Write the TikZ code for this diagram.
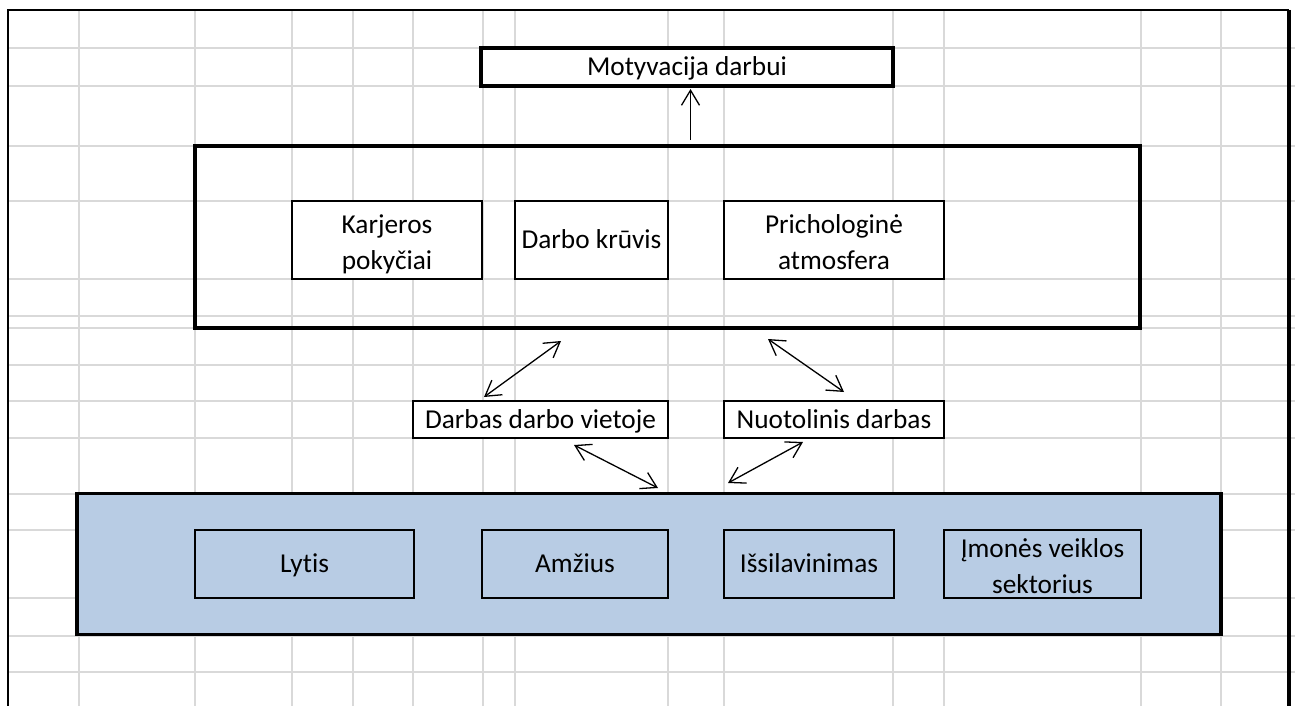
\documentclass[tikz,border=0pt]{standalone}
\usepackage{fontspec}
\setmainfont[Ligatures=NoCommon]{Carlito}
\usetikzlibrary{arrows.meta}
\definecolor{gridgray}{RGB}{217,217,217}
\definecolor{boxblue}{RGB}{184,204,228}
\tikzset{sbarb/.tip={Straight Barb[length=15pt,width=18pt,line width=1.3pt]}}
\begin{document}
\begin{tikzpicture}[x=1pt,y=-1pt,
  txt/.style={font=\fontsize{27.3}{36}\selectfont, inner sep=0pt, align=center},
  one/.style={text height=23pt, text depth=6pt},
  two/.style={text height=59pt, text depth=1pt},
  thinbox/.style={txt, draw=black, line width=1.8pt, fill=white},
  thickbox/.style={draw=black, line width=3.2pt, inner sep=0pt},
  bluebox/.style={txt, draw=black, line width=1.8pt, fill=boxblue},
  conn/.style={line width=1.3pt, sbarb-sbarb},
  upconn/.style={line width=1.3pt, -sbarb}
]
\useasboundingbox (0,0) rectangle (1295,706);
\fill[white] (0,0) rectangle (1295,706);
% grid
\foreach \gx in {79,195,292,353,413,483,515,668,724,893,944,1141,1221}
  \draw[gridgray, line width=1.3pt] (\gx,10) -- (\gx,706);
\foreach \gy in {48,86,146,201,279,316,328,365,401,438,494,530,598,636,672}
  \draw[gridgray, line width=1.3pt] (8,\gy) -- (1295,\gy);
% sheet frame
\draw[black, line width=2.2pt] (8,706) -- (8,10) -- (1289,10);
\draw[black, line width=3.2pt] (1289,10) -- (1289,706);

% top box
\node[thickbox, txt, one, fill=white, minimum width=412pt, minimum height=38pt] (mot) at (687,67) {Motyvacija darbui};

% big white frame box
\node[thickbox, minimum width=945pt, minimum height=182pt] (fact) at (667.5,237) {};
\node[thinbox, two, minimum width=190pt, minimum height=78pt] (kar) at (387,240) {Karjeros\\pokyčiai};
\node[thinbox, one, minimum width=153pt, minimum height=78pt] (kru) at (591.5,240) {Darbo krūvis};
\node[thinbox, two, minimum width=220pt, minimum height=78pt] (pri) at (834,240) {Prichologinė\\atmosfera};

% middle boxes
\node[thinbox, one, line width=1.5pt, minimum width=255pt, minimum height=37pt] (dv) at (540.5,419.5) {Darbas darbo vietoje};
\node[thinbox, one, line width=1.5pt, minimum width=220pt, minimum height=37pt] (nd) at (834,419.5) {Nuotolinis darbas};

% blue box
\node[thickbox, fill=boxblue, line width=3.5pt, minimum width=1144pt, minimum height=141pt] (demo) at (649,564) {};
\node[bluebox, one, minimum width=219pt, minimum height=68pt] (lyt) at (304.5,564) {Lytis};
\node[bluebox, one, minimum width=186pt, minimum height=68pt] (amz) at (575,564) {Amžius};
\node[bluebox, one, minimum width=170pt, minimum height=68pt] (iss) at (809,564) {Išsilavinimas};
\node[bluebox, two, minimum width=197pt, minimum height=68pt] (imo) at (1042.5,564) {Įmonės veiklos\\sektorius};

% connector end points
\coordinate (upS) at (690.5,140);
\coordinate (upE) at (690.5,89);
\coordinate (a1s) at (484,397);
\coordinate (a1e) at (561,341);
\coordinate (a2s) at (768,339);
\coordinate (a2e) at (844,392);
\coordinate (a3s) at (574,445);
\coordinate (a3e) at (658,488);
\coordinate (a4s) at (803,442);
\coordinate (a4e) at (728,483);

\draw[upconn] (upS) -- (upE);
\draw[conn] (a1s) -- (a1e);
\draw[conn] (a2s) -- (a2e);
\draw[conn] (a3s) -- (a3e);
\draw[conn] (a4s) -- (a4e);
\end{tikzpicture}
\end{document}
